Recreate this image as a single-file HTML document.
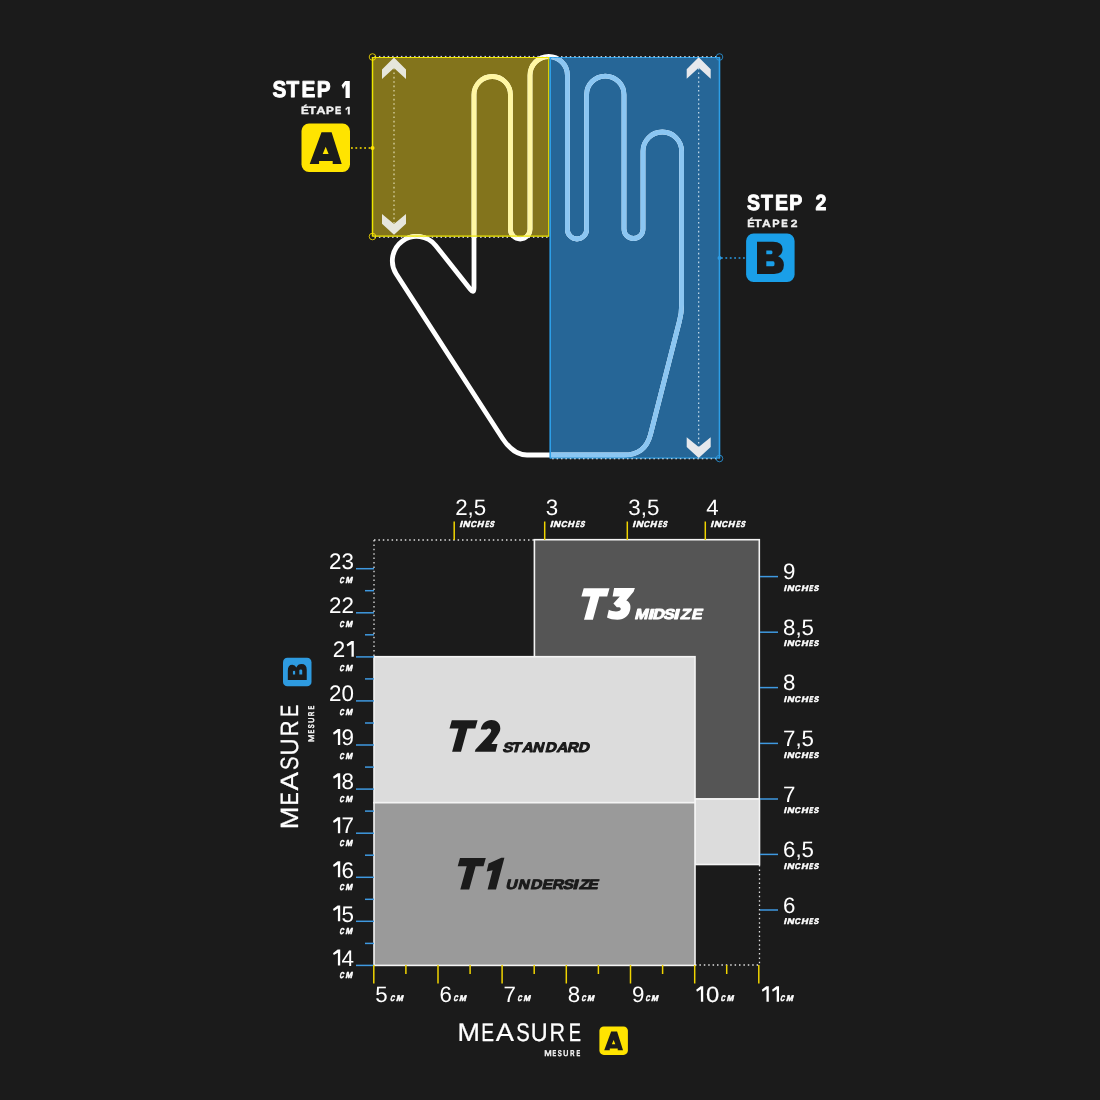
<!DOCTYPE html><html><head><meta charset="utf-8"><style>html,body{margin:0;padding:0;background:#1b1b1b;}svg{display:block;will-change:transform}text{font-family:"Liberation Sans", sans-serif;text-rendering:geometricPrecision;}</style></head><body>
<svg width="1100" height="1100" viewBox="0 0 1100 1100">
<rect x="0" y="0" width="1100" height="1100" fill="#1b1b1b"/>
<defs><clipPath id="cy"><rect x="372.5" y="57" width="176.29999999999995" height="179.5"/></clipPath><clipPath id="cb"><rect x="550.2" y="57" width="169.29999999999995" height="401.5"/></clipPath></defs>
<rect x="372.5" y="57" width="176.29999999999995" height="179.5" fill="#83741c"/>
<rect x="550.2" y="57" width="169.29999999999995" height="401.5" fill="#266697"/>
<path d="M 527 455 L 624 455 Q 645.3 455 650.5 434.5 L 679.5 320.8 Q 681.6 313 681.6 305 L 681.6 151.3 A 19.3 19.3 0 0 0 643 151.3 L 643 229 A 9.5 9.5 0 0 1 624 229 L 624 94.7 A 18.7 18.7 0 0 0 586.6 94.7 L 586.6 229.4 A 9.6 9.6 0 0 1 567.4 229.4 L 567.4 75.2 A 18.7 18.7 0 0 0 530 75.2 L 530 229.2 A 9.8 9.8 0 0 1 510.4 229.2 L 510.4 94.7 A 18.2 18.2 0 0 0 474 94.7 L 474 288 Q 474 294 470.3 289.3 L 435.6 245.4 A 24.34 24.34 0 0 0 396.1 273.7 L 502.4 438.2 Q 513.3 455 527 455 Z" fill="none" stroke="#ffffff" stroke-width="4.8" stroke-linejoin="round"/>
<path d="M 527 455 L 624 455 Q 645.3 455 650.5 434.5 L 679.5 320.8 Q 681.6 313 681.6 305 L 681.6 151.3 A 19.3 19.3 0 0 0 643 151.3 L 643 229 A 9.5 9.5 0 0 1 624 229 L 624 94.7 A 18.7 18.7 0 0 0 586.6 94.7 L 586.6 229.4 A 9.6 9.6 0 0 1 567.4 229.4 L 567.4 75.2 A 18.7 18.7 0 0 0 530 75.2 L 530 229.2 A 9.8 9.8 0 0 1 510.4 229.2 L 510.4 94.7 A 18.2 18.2 0 0 0 474 94.7 L 474 288 Q 474 294 470.3 289.3 L 435.6 245.4 A 24.34 24.34 0 0 0 396.1 273.7 L 502.4 438.2 Q 513.3 455 527 455 Z" fill="none" stroke="#fff7a2" stroke-width="4.8" stroke-linejoin="round" clip-path="url(#cy)"/>
<path d="M 527 455 L 624 455 Q 645.3 455 650.5 434.5 L 679.5 320.8 Q 681.6 313 681.6 305 L 681.6 151.3 A 19.3 19.3 0 0 0 643 151.3 L 643 229 A 9.5 9.5 0 0 1 624 229 L 624 94.7 A 18.7 18.7 0 0 0 586.6 94.7 L 586.6 229.4 A 9.6 9.6 0 0 1 567.4 229.4 L 567.4 75.2 A 18.7 18.7 0 0 0 530 75.2 L 530 229.2 A 9.8 9.8 0 0 1 510.4 229.2 L 510.4 94.7 A 18.2 18.2 0 0 0 474 94.7 L 474 288 Q 474 294 470.3 289.3 L 435.6 245.4 A 24.34 24.34 0 0 0 396.1 273.7 L 502.4 438.2 Q 513.3 455 527 455 Z" fill="none" stroke="#8bc6f2" stroke-width="4.8" stroke-linejoin="round" clip-path="url(#cb)"/>
<line x1="372.5" y1="57" x2="372.5" y2="236.5" stroke="#ece600" stroke-width="1.5"/>
<line x1="548.8" y1="57" x2="548.8" y2="236.5" stroke="#ece600" stroke-width="1.3"/>
<line x1="372.5" y1="57.5" x2="548.8" y2="57.5" stroke="#ece600" stroke-width="1.2"/>
<line x1="374.5" y1="56.4" x2="548.8" y2="56.4" stroke="#e8e0ff" stroke-width="1.0" stroke-dasharray="1.5 2.9"/>
<line x1="372.5" y1="236.2" x2="548.8" y2="236.2" stroke="#ece600" stroke-width="1.2"/>
<line x1="374.5" y1="237.3" x2="548.8" y2="237.3" stroke="#f0f0f0" stroke-width="1.0" stroke-dasharray="1.5 2.9"/>
<line x1="550.2" y1="57" x2="550.2" y2="458.5" stroke="#2d9fe8" stroke-width="1.6"/>
<line x1="719.5" y1="57" x2="719.5" y2="458.5" stroke="#2d9fe8" stroke-width="1.6"/>
<line x1="550.2" y1="57.5" x2="719.5" y2="57.5" stroke="#2d9fe8" stroke-width="1.2"/>
<line x1="552.2" y1="56.7" x2="719.5" y2="56.7" stroke="#e6f2ff" stroke-width="1.0" stroke-dasharray="1.5 2.9"/>
<line x1="550.2" y1="458.0" x2="719.5" y2="458.0" stroke="#2d9fe8" stroke-width="1.2"/>
<line x1="552.2" y1="458.8" x2="719.5" y2="458.8" stroke="#e6f2ff" stroke-width="1.0" stroke-dasharray="1.5 2.9"/>
<circle cx="372.5" cy="57" r="3.3" fill="none" stroke="#ffe400" stroke-width="1" opacity="0.8"/>
<circle cx="372.5" cy="236.5" r="3.3" fill="none" stroke="#ffe400" stroke-width="1" opacity="0.8"/>
<circle cx="719.5" cy="57" r="3.3" fill="none" stroke="#2b9be4" stroke-width="1" opacity="0.8"/>
<circle cx="719.5" cy="458.5" r="3.3" fill="none" stroke="#2b9be4" stroke-width="1" opacity="0.8"/>
<line x1="394" y1="68" x2="394" y2="224" stroke="#e8e4c0" stroke-width="1.1" stroke-dasharray="1.6 2.8"/>
<polygon points="394,57.5 406,69.5 406,79.0 394,67.9 382,79.0 382,69.5" fill="#e6e6dc"/>
<polygon points="394,234.7 406,223.7 406,214.0 394,223.89999999999998 382,214.0 382,223.7" fill="#e6e6dc"/>
<line x1="698.7" y1="68" x2="698.7" y2="447" stroke="#d8e8f4" stroke-width="1.1" stroke-dasharray="1.6 2.8"/>
<polygon points="698.7,57.3 710.7,69.3 710.7,78.8 698.7,67.7 686.7,78.8 686.7,69.3" fill="#e6e8ec"/>
<polygon points="698.7,457.9 710.7,446.9 710.7,437.2 698.7,447.09999999999997 686.7,437.2 686.7,446.9" fill="#e6e8ec"/>
<line x1="351" y1="148" x2="372" y2="148" stroke="#ffe400" stroke-width="1.6" stroke-dasharray="1.8 2.6"/>
<circle cx="372.5" cy="148" r="2" fill="#ffe400"/>
<line x1="721" y1="258" x2="746" y2="258" stroke="#2b9be4" stroke-width="1.6" stroke-dasharray="1.8 2.6"/>
<circle cx="719.5" cy="258" r="2" fill="#2b9be4"/>
<g transform="translate(301.5,123.5) scale(1.0)"><rect x="0" y="0" width="48.5" height="48.5" rx="7.5" fill="#ffe400"/><path d="M 20 8.7 L 30.1 8.7 L 40.2 40.5 L 31.2 40.5 L 31.2 37.6 L 17.6 37.6 L 17.6 40.5 L 8.2 40.5 Z M 24.2 23.3 L 27.1 30.5 L 21.2 30.5 Z" fill="#1b1b1b" fill-rule="evenodd"/></g>
<g transform="translate(746.1,233.5) scale(1.0)"><rect x="0" y="0" width="48.5" height="48.5" rx="7.5" fill="#1a9fe8"/><path d="M 10.9 8.2 L 27 8.2 Q 36.5 8.2 36.5 15.8 Q 36.5 20.5 32 22.8 Q 37.8 25.2 37.8 31.5 Q 37.8 40.4 28 40.4 L 10.9 40.4 Z M 20.2 16.9 L 25.2 16.9 Q 26.4 16.9 26.4 18.8 Q 26.4 20.7 25.2 20.7 L 20.2 20.7 Z M 20.2 27.8 L 27 27.8 Q 28.5 27.8 28.5 30.2 Q 28.5 32.7 27 32.7 L 20.2 32.7 Z" fill="#1b1b1b" fill-rule="evenodd"/></g>
<text transform="translate(272.59,97.45) scale(0.052131,0.057923)" font-size="400" fill="#fff" font-weight="bold" stroke="#fff" stroke-width="16.356" stroke-linejoin="round">S</text>
<text transform="translate(286.59,97.45) scale(0.052131,0.057923)" font-size="400" fill="#fff" font-weight="bold" stroke="#fff" stroke-width="16.356" stroke-linejoin="round">T</text>
<text transform="translate(301.45,97.45) scale(0.052131,0.057923)" font-size="400" fill="#fff" font-weight="bold" stroke="#fff" stroke-width="16.356" stroke-linejoin="round">E</text>
<text transform="translate(316.75,97.45) scale(0.052131,0.057923)" font-size="400" fill="#fff" font-weight="bold" stroke="#fff" stroke-width="16.356" stroke-linejoin="round">P</text>
<path d="M 345.50 81.10 L 349.80 81.10 L 349.80 97.90 L 345.50 97.90 L 345.50 84.46 L 343.11 88.97 L 341.60 85.32 L 345.07 81.10 Z" fill="#fff"/>
<text transform="translate(747.03,210.45) scale(0.049180,0.054645)" font-size="400" fill="#fff" font-weight="bold" stroke="#fff" stroke-width="17.337" stroke-linejoin="round">S</text>
<text transform="translate(761.05,210.45) scale(0.049180,0.054645)" font-size="400" fill="#fff" font-weight="bold" stroke="#fff" stroke-width="17.337" stroke-linejoin="round">T</text>
<text transform="translate(774.91,210.45) scale(0.049180,0.054645)" font-size="400" fill="#fff" font-weight="bold" stroke="#fff" stroke-width="17.337" stroke-linejoin="round">E</text>
<text transform="translate(789.16,210.45) scale(0.049180,0.054645)" font-size="400" fill="#fff" font-weight="bold" stroke="#fff" stroke-width="17.337" stroke-linejoin="round">P</text>
<text transform="translate(815.59,210.45) scale(0.049180,0.054645)" font-size="400" fill="#fff" font-weight="bold" stroke="#fff" stroke-width="17.337" stroke-linejoin="round">2</text>
<text transform="translate(301.00,114.10) scale(0.029148,0.026594)" font-size="400" fill="#f0f0f0" font-weight="bold" stroke="#f0f0f0" stroke-width="14.352" stroke-linejoin="round">É</text>
<text transform="translate(308.56,114.10) scale(0.031489,0.026594)" font-size="400" fill="#f0f0f0" font-weight="bold" stroke="#f0f0f0" stroke-width="13.773" stroke-linejoin="round">T</text>
<text transform="translate(316.16,114.10) scale(0.032210,0.026594)" font-size="400" fill="#f0f0f0" font-weight="bold" stroke="#f0f0f0" stroke-width="13.605" stroke-linejoin="round">A</text>
<text transform="translate(325.89,114.10) scale(0.029333,0.026594)" font-size="400" fill="#f0f0f0" font-weight="bold" stroke="#f0f0f0" stroke-width="14.304" stroke-linejoin="round">P</text>
<text transform="translate(335.05,114.10) scale(0.023767,0.026594)" font-size="400" fill="#f0f0f0" font-weight="bold" stroke="#f0f0f0" stroke-width="15.885" stroke-linejoin="round">E</text>
<path d="M 347.80 106.80 L 349.80 106.80 L 349.80 114.50 L 347.80 114.50 L 347.80 108.34 L 346.00 110.44 L 345.30 108.74 L 347.60 106.80 Z" fill="#f0f0f0"/>
<text transform="translate(747.25,227.10) scale(0.027354,0.026594)" font-size="400" fill="#f0f0f0" font-weight="bold" stroke="#f0f0f0" stroke-width="14.829" stroke-linejoin="round">É</text>
<text transform="translate(754.37,227.10) scale(0.029787,0.026594)" font-size="400" fill="#f0f0f0" font-weight="bold" stroke="#f0f0f0" stroke-width="14.189" stroke-linejoin="round">T</text>
<text transform="translate(761.98,227.10) scale(0.030712,0.026594)" font-size="400" fill="#f0f0f0" font-weight="bold" stroke="#f0f0f0" stroke-width="13.960" stroke-linejoin="round">A</text>
<text transform="translate(772.14,227.10) scale(0.027556,0.026594)" font-size="400" fill="#f0f0f0" font-weight="bold" stroke="#f0f0f0" stroke-width="14.774" stroke-linejoin="round">P</text>
<text transform="translate(781.23,227.10) scale(0.024215,0.026594)" font-size="400" fill="#f0f0f0" font-weight="bold" stroke="#f0f0f0" stroke-width="15.745" stroke-linejoin="round">E</text>
<text transform="translate(790.86,227.10) scale(0.030366,0.026594)" font-size="400" fill="#f0f0f0" font-weight="bold" stroke="#f0f0f0" stroke-width="14.045" stroke-linejoin="round">2</text>
<line x1="374" y1="540" x2="534" y2="540" stroke="#e0e0e0" stroke-width="1.3" stroke-dasharray="1.5 2.9"/>
<line x1="374" y1="540" x2="374" y2="657" stroke="#e0e0e0" stroke-width="1.3" stroke-dasharray="1.5 2.9"/>
<line x1="759.5" y1="865" x2="759.5" y2="965" stroke="#e0e0e0" stroke-width="1.3" stroke-dasharray="1.5 2.9"/>
<line x1="695" y1="965" x2="759.5" y2="965" stroke="#e0e0e0" stroke-width="1.3" stroke-dasharray="1.5 2.9"/>
<rect x="534.4" y="539.7" width="224.9" height="259.3" fill="#555555" stroke="#f4f4f4" stroke-width="1.6"/>
<rect x="695" y="799" width="64.5" height="65.5" fill="#dcdcdc" stroke="#f4f4f4" stroke-width="1.6"/>
<rect x="374" y="656.7" width="321" height="146" fill="#dcdcdc" stroke="#f4f4f4" stroke-width="1.6"/>
<rect x="374" y="802.7" width="321" height="162.7" fill="#9a9a9a" stroke="#f4f4f4" stroke-width="1.6"/>
<line x1="356" y1="568.7" x2="374" y2="568.7" stroke="#3f99e0" stroke-width="1.5"/>
<line x1="365" y1="590.7" x2="374" y2="590.7" stroke="#3f99e0" stroke-width="1.5"/>
<text x="354" y="568.9" font-size="22.4" fill="#fff" text-anchor="end">23</text>
<text transform="translate(339.36,583.45) skewX(-14) scale(0.014665,0.021129)" font-size="400" fill="#fff" font-weight="bold" stroke="#fff" stroke-width="27.937" stroke-linejoin="round">C</text>
<text transform="translate(345.19,583.45) skewX(-14) scale(0.020347,0.021129)" font-size="400" fill="#fff" font-weight="bold" stroke="#fff" stroke-width="24.110" stroke-linejoin="round">M</text>
<line x1="356" y1="612.8" x2="374" y2="612.8" stroke="#3f99e0" stroke-width="1.5"/>
<line x1="365" y1="634.8" x2="374" y2="634.8" stroke="#3f99e0" stroke-width="1.5"/>
<text x="354" y="613.0" font-size="22.4" fill="#fff" text-anchor="end">22</text>
<text transform="translate(339.36,627.25) skewX(-14) scale(0.014665,0.021129)" font-size="400" fill="#fff" font-weight="bold" stroke="#fff" stroke-width="27.937" stroke-linejoin="round">C</text>
<text transform="translate(345.19,627.25) skewX(-14) scale(0.020347,0.021129)" font-size="400" fill="#fff" font-weight="bold" stroke="#fff" stroke-width="24.110" stroke-linejoin="round">M</text>
<line x1="356" y1="656.9" x2="374" y2="656.9" stroke="#3f99e0" stroke-width="1.5"/>
<line x1="365" y1="678.9" x2="374" y2="678.9" stroke="#3f99e0" stroke-width="1.5"/>
<text x="345.3" y="657.1" font-size="22.4" fill="#fff" text-anchor="end">2</text>
<path d="M 351.50 640.96 L 353.80 640.96 L 353.80 656.86 L 351.50 656.86 L 351.50 644.14 L 347.41 646.55 L 346.60 644.60 L 351.27 640.96 Z" fill="#fff"/>
<text transform="translate(339.36,671.05) skewX(-14) scale(0.014665,0.021129)" font-size="400" fill="#fff" font-weight="bold" stroke="#fff" stroke-width="27.937" stroke-linejoin="round">C</text>
<text transform="translate(345.19,671.05) skewX(-14) scale(0.020347,0.021129)" font-size="400" fill="#fff" font-weight="bold" stroke="#fff" stroke-width="24.110" stroke-linejoin="round">M</text>
<line x1="356" y1="700.9" x2="374" y2="700.9" stroke="#3f99e0" stroke-width="1.5"/>
<line x1="365" y1="723.0" x2="374" y2="723.0" stroke="#3f99e0" stroke-width="1.5"/>
<text x="354" y="701.1" font-size="22.4" fill="#fff" text-anchor="end">20</text>
<text transform="translate(339.36,714.85) skewX(-14) scale(0.014665,0.021129)" font-size="400" fill="#fff" font-weight="bold" stroke="#fff" stroke-width="27.937" stroke-linejoin="round">C</text>
<text transform="translate(345.19,714.85) skewX(-14) scale(0.020347,0.021129)" font-size="400" fill="#fff" font-weight="bold" stroke="#fff" stroke-width="24.110" stroke-linejoin="round">M</text>
<line x1="356" y1="745.0" x2="374" y2="745.0" stroke="#3f99e0" stroke-width="1.5"/>
<line x1="365" y1="767.1" x2="374" y2="767.1" stroke="#3f99e0" stroke-width="1.5"/>
<text x="354" y="745.2" font-size="22.4" fill="#fff" text-anchor="end">9</text>
<path d="M 337.90 729.12 L 340.20 729.12 L 340.20 745.02 L 337.90 745.02 L 337.90 732.30 L 333.81 734.71 L 333.00 732.76 L 337.67 729.12 Z" fill="#fff"/>
<text transform="translate(339.36,758.65) skewX(-14) scale(0.014665,0.021129)" font-size="400" fill="#fff" font-weight="bold" stroke="#fff" stroke-width="27.937" stroke-linejoin="round">C</text>
<text transform="translate(345.19,758.65) skewX(-14) scale(0.020347,0.021129)" font-size="400" fill="#fff" font-weight="bold" stroke="#fff" stroke-width="24.110" stroke-linejoin="round">M</text>
<line x1="356" y1="789.1" x2="374" y2="789.1" stroke="#3f99e0" stroke-width="1.5"/>
<line x1="365" y1="811.1" x2="374" y2="811.1" stroke="#3f99e0" stroke-width="1.5"/>
<text x="354" y="789.3" font-size="22.4" fill="#fff" text-anchor="end">8</text>
<path d="M 337.90 773.20 L 340.20 773.20 L 340.20 789.10 L 337.90 789.10 L 337.90 776.38 L 333.81 778.79 L 333.00 776.84 L 337.67 773.20 Z" fill="#fff"/>
<text transform="translate(339.36,802.45) skewX(-14) scale(0.014665,0.021129)" font-size="400" fill="#fff" font-weight="bold" stroke="#fff" stroke-width="27.937" stroke-linejoin="round">C</text>
<text transform="translate(345.19,802.45) skewX(-14) scale(0.020347,0.021129)" font-size="400" fill="#fff" font-weight="bold" stroke="#fff" stroke-width="24.110" stroke-linejoin="round">M</text>
<line x1="356" y1="833.2" x2="374" y2="833.2" stroke="#3f99e0" stroke-width="1.5"/>
<line x1="365" y1="855.2" x2="374" y2="855.2" stroke="#3f99e0" stroke-width="1.5"/>
<text x="354" y="833.4" font-size="22.4" fill="#fff" text-anchor="end">7</text>
<path d="M 337.90 817.28 L 340.20 817.28 L 340.20 833.18 L 337.90 833.18 L 337.90 820.46 L 333.81 822.88 L 333.00 820.92 L 337.67 817.28 Z" fill="#fff"/>
<text transform="translate(339.36,846.25) skewX(-14) scale(0.014665,0.021129)" font-size="400" fill="#fff" font-weight="bold" stroke="#fff" stroke-width="27.937" stroke-linejoin="round">C</text>
<text transform="translate(345.19,846.25) skewX(-14) scale(0.020347,0.021129)" font-size="400" fill="#fff" font-weight="bold" stroke="#fff" stroke-width="24.110" stroke-linejoin="round">M</text>
<line x1="356" y1="877.3" x2="374" y2="877.3" stroke="#3f99e0" stroke-width="1.5"/>
<line x1="365" y1="899.3" x2="374" y2="899.3" stroke="#3f99e0" stroke-width="1.5"/>
<text x="354" y="877.5" font-size="22.4" fill="#fff" text-anchor="end">6</text>
<path d="M 337.90 861.36 L 340.20 861.36 L 340.20 877.26 L 337.90 877.26 L 337.90 864.54 L 333.81 866.95 L 333.00 865.00 L 337.67 861.36 Z" fill="#fff"/>
<text transform="translate(339.36,890.05) skewX(-14) scale(0.014665,0.021129)" font-size="400" fill="#fff" font-weight="bold" stroke="#fff" stroke-width="27.937" stroke-linejoin="round">C</text>
<text transform="translate(345.19,890.05) skewX(-14) scale(0.020347,0.021129)" font-size="400" fill="#fff" font-weight="bold" stroke="#fff" stroke-width="24.110" stroke-linejoin="round">M</text>
<line x1="356" y1="921.3" x2="374" y2="921.3" stroke="#3f99e0" stroke-width="1.5"/>
<line x1="365" y1="943.4" x2="374" y2="943.4" stroke="#3f99e0" stroke-width="1.5"/>
<text x="354" y="921.5" font-size="22.4" fill="#fff" text-anchor="end">5</text>
<path d="M 337.90 905.44 L 340.20 905.44 L 340.20 921.34 L 337.90 921.34 L 337.90 908.62 L 333.81 911.03 L 333.00 909.08 L 337.67 905.44 Z" fill="#fff"/>
<text transform="translate(339.36,933.85) skewX(-14) scale(0.014665,0.021129)" font-size="400" fill="#fff" font-weight="bold" stroke="#fff" stroke-width="27.937" stroke-linejoin="round">C</text>
<text transform="translate(345.19,933.85) skewX(-14) scale(0.020347,0.021129)" font-size="400" fill="#fff" font-weight="bold" stroke="#fff" stroke-width="24.110" stroke-linejoin="round">M</text>
<line x1="356" y1="965.4" x2="374" y2="965.4" stroke="#3f99e0" stroke-width="1.5"/>
<text x="354" y="965.6" font-size="22.4" fill="#fff" text-anchor="end">4</text>
<path d="M 337.90 949.52 L 340.20 949.52 L 340.20 965.42 L 337.90 965.42 L 337.90 952.70 L 333.81 955.12 L 333.00 953.16 L 337.67 949.52 Z" fill="#fff"/>
<text transform="translate(339.36,977.65) skewX(-14) scale(0.014665,0.021129)" font-size="400" fill="#fff" font-weight="bold" stroke="#fff" stroke-width="27.937" stroke-linejoin="round">C</text>
<text transform="translate(345.19,977.65) skewX(-14) scale(0.020347,0.021129)" font-size="400" fill="#fff" font-weight="bold" stroke="#fff" stroke-width="24.110" stroke-linejoin="round">M</text>
<line x1="373.8" y1="965" x2="373.8" y2="983.5" stroke="#f0d400" stroke-width="1.5"/>
<line x1="405.9" y1="965" x2="405.9" y2="974" stroke="#f0d400" stroke-width="1.5"/>
<text x="375.3" y="1001.8" font-size="22.3" fill="#fff">5</text>
<text transform="translate(390.06,1001.35) skewX(-14) scale(0.014716,0.020765)" font-size="400" fill="#fff" font-weight="bold" stroke="#fff" stroke-width="28.184" stroke-linejoin="round">C</text>
<text transform="translate(395.89,1001.35) skewX(-14) scale(0.020437,0.020765)" font-size="400" fill="#fff" font-weight="bold" stroke="#fff" stroke-width="24.271" stroke-linejoin="round">M</text>
<line x1="438.0" y1="965" x2="438.0" y2="983.5" stroke="#f0d400" stroke-width="1.5"/>
<line x1="470.1" y1="965" x2="470.1" y2="974" stroke="#f0d400" stroke-width="1.5"/>
<text x="439.5" y="1001.8" font-size="22.3" fill="#fff">6</text>
<text transform="translate(453.23,1001.35) skewX(-14) scale(0.014716,0.020765)" font-size="400" fill="#fff" font-weight="bold" stroke="#fff" stroke-width="28.184" stroke-linejoin="round">C</text>
<text transform="translate(459.06,1001.35) skewX(-14) scale(0.020437,0.020765)" font-size="400" fill="#fff" font-weight="bold" stroke="#fff" stroke-width="24.271" stroke-linejoin="round">M</text>
<line x1="502.1" y1="965" x2="502.1" y2="983.5" stroke="#f0d400" stroke-width="1.5"/>
<line x1="534.2" y1="965" x2="534.2" y2="974" stroke="#f0d400" stroke-width="1.5"/>
<text x="503.6" y="1001.8" font-size="22.3" fill="#fff">7</text>
<text transform="translate(517.30,1001.35) skewX(-14) scale(0.014716,0.020765)" font-size="400" fill="#fff" font-weight="bold" stroke="#fff" stroke-width="28.184" stroke-linejoin="round">C</text>
<text transform="translate(523.13,1001.35) skewX(-14) scale(0.020437,0.020765)" font-size="400" fill="#fff" font-weight="bold" stroke="#fff" stroke-width="24.271" stroke-linejoin="round">M</text>
<line x1="566.3" y1="965" x2="566.3" y2="983.5" stroke="#f0d400" stroke-width="1.5"/>
<line x1="598.4" y1="965" x2="598.4" y2="974" stroke="#f0d400" stroke-width="1.5"/>
<text x="567.8" y="1001.8" font-size="22.3" fill="#fff">8</text>
<text transform="translate(581.27,1001.35) skewX(-14) scale(0.014716,0.020765)" font-size="400" fill="#fff" font-weight="bold" stroke="#fff" stroke-width="28.184" stroke-linejoin="round">C</text>
<text transform="translate(587.10,1001.35) skewX(-14) scale(0.020437,0.020765)" font-size="400" fill="#fff" font-weight="bold" stroke="#fff" stroke-width="24.271" stroke-linejoin="round">M</text>
<line x1="630.5" y1="965" x2="630.5" y2="983.5" stroke="#f0d400" stroke-width="1.5"/>
<line x1="662.6" y1="965" x2="662.6" y2="974" stroke="#f0d400" stroke-width="1.5"/>
<text x="632.0" y="1001.8" font-size="22.3" fill="#fff">9</text>
<text transform="translate(645.24,1001.35) skewX(-14) scale(0.014716,0.020765)" font-size="400" fill="#fff" font-weight="bold" stroke="#fff" stroke-width="28.184" stroke-linejoin="round">C</text>
<text transform="translate(651.07,1001.35) skewX(-14) scale(0.020437,0.020765)" font-size="400" fill="#fff" font-weight="bold" stroke="#fff" stroke-width="24.271" stroke-linejoin="round">M</text>
<line x1="694.7" y1="965" x2="694.7" y2="983.5" stroke="#f0d400" stroke-width="1.5"/>
<line x1="726.7" y1="965" x2="726.7" y2="974" stroke="#f0d400" stroke-width="1.5"/>
<path d="M 700.90 986.20 L 703.20 986.20 L 703.20 1001.70 L 700.90 1001.70 L 700.90 989.30 L 697.00 991.72 L 696.20 989.76 L 700.67 986.20 Z" fill="#fff"/>
<text transform="translate(706.03,1001.60) scale(0.059410,0.055009)" font-size="400" fill="#fff" stroke="#fff" stroke-width="3.496" stroke-linejoin="round">0</text>
<text transform="translate(720.61,1001.35) skewX(-14) scale(0.014716,0.020765)" font-size="400" fill="#fff" font-weight="bold" stroke="#fff" stroke-width="28.184" stroke-linejoin="round">C</text>
<text transform="translate(726.44,1001.35) skewX(-14) scale(0.020437,0.020765)" font-size="400" fill="#fff" font-weight="bold" stroke="#fff" stroke-width="24.271" stroke-linejoin="round">M</text>
<line x1="758.8" y1="965" x2="758.8" y2="983.5" stroke="#f0d400" stroke-width="1.5"/>
<path d="M 766.50 986.20 L 768.80 986.20 L 768.80 1001.70 L 766.50 1001.70 L 766.50 989.30 L 762.60 991.72 L 761.80 989.76 L 766.27 986.20 Z" fill="#fff"/>
<path d="M 776.70 986.20 L 779.00 986.20 L 779.00 1001.70 L 776.70 1001.70 L 776.70 989.30 L 772.80 991.72 L 772.00 989.76 L 776.47 986.20 Z" fill="#fff"/>
<text transform="translate(780.08,1001.35) skewX(-14) scale(0.014716,0.020765)" font-size="400" fill="#fff" font-weight="bold" stroke="#fff" stroke-width="28.184" stroke-linejoin="round">C</text>
<text transform="translate(785.91,1001.35) skewX(-14) scale(0.020437,0.020765)" font-size="400" fill="#fff" font-weight="bold" stroke="#fff" stroke-width="24.271" stroke-linejoin="round">M</text>
<line x1="454.2" y1="521.5" x2="454.2" y2="540" stroke="#f0d400" stroke-width="1.5"/>
<text x="455.2" y="515.3" font-size="22.3" fill="#fff">2,5</text>
<text transform="translate(459.22,527.15) skewX(-14) scale(0.024044,0.021858)" font-size="400" fill="#fff" font-weight="bold" stroke="#fff" stroke-width="21.786" stroke-linejoin="round">I</text>
<text transform="translate(462.59,527.15) skewX(-14) scale(0.023960,0.021858)" font-size="400" fill="#fff" font-weight="bold" stroke="#fff" stroke-width="21.825" stroke-linejoin="round">N</text>
<text transform="translate(470.13,527.15) skewX(-14) scale(0.019394,0.021858)" font-size="400" fill="#fff" font-weight="bold" stroke="#fff" stroke-width="24.241" stroke-linejoin="round">C</text>
<text transform="translate(476.72,527.15) skewX(-14) scale(0.022678,0.021858)" font-size="400" fill="#fff" font-weight="bold" stroke="#fff" stroke-width="22.454" stroke-linejoin="round">H</text>
<text transform="translate(484.68,527.15) skewX(-14) scale(0.013520,0.021858)" font-size="400" fill="#fff" font-weight="bold" stroke="#fff" stroke-width="28.266" stroke-linejoin="round">E</text>
<text transform="translate(489.17,527.15) skewX(-14) scale(0.016909,0.021858)" font-size="400" fill="#fff" font-weight="bold" stroke="#fff" stroke-width="25.795" stroke-linejoin="round">S</text>
<line x1="544.7" y1="521.5" x2="544.7" y2="540" stroke="#f0d400" stroke-width="1.5"/>
<text x="545.7" y="515.3" font-size="22.3" fill="#fff">3</text>
<text transform="translate(549.72,527.15) skewX(-14) scale(0.024044,0.021858)" font-size="400" fill="#fff" font-weight="bold" stroke="#fff" stroke-width="21.786" stroke-linejoin="round">I</text>
<text transform="translate(553.09,527.15) skewX(-14) scale(0.023960,0.021858)" font-size="400" fill="#fff" font-weight="bold" stroke="#fff" stroke-width="21.825" stroke-linejoin="round">N</text>
<text transform="translate(560.63,527.15) skewX(-14) scale(0.019394,0.021858)" font-size="400" fill="#fff" font-weight="bold" stroke="#fff" stroke-width="24.241" stroke-linejoin="round">C</text>
<text transform="translate(567.22,527.15) skewX(-14) scale(0.022678,0.021858)" font-size="400" fill="#fff" font-weight="bold" stroke="#fff" stroke-width="22.454" stroke-linejoin="round">H</text>
<text transform="translate(575.18,527.15) skewX(-14) scale(0.013520,0.021858)" font-size="400" fill="#fff" font-weight="bold" stroke="#fff" stroke-width="28.266" stroke-linejoin="round">E</text>
<text transform="translate(579.67,527.15) skewX(-14) scale(0.016909,0.021858)" font-size="400" fill="#fff" font-weight="bold" stroke="#fff" stroke-width="25.795" stroke-linejoin="round">S</text>
<line x1="627.3" y1="521.5" x2="627.3" y2="540" stroke="#f0d400" stroke-width="1.5"/>
<text x="628.3" y="515.3" font-size="22.3" fill="#fff">3,5</text>
<text transform="translate(632.32,527.15) skewX(-14) scale(0.024044,0.021858)" font-size="400" fill="#fff" font-weight="bold" stroke="#fff" stroke-width="21.786" stroke-linejoin="round">I</text>
<text transform="translate(635.69,527.15) skewX(-14) scale(0.023960,0.021858)" font-size="400" fill="#fff" font-weight="bold" stroke="#fff" stroke-width="21.825" stroke-linejoin="round">N</text>
<text transform="translate(643.23,527.15) skewX(-14) scale(0.019394,0.021858)" font-size="400" fill="#fff" font-weight="bold" stroke="#fff" stroke-width="24.241" stroke-linejoin="round">C</text>
<text transform="translate(649.82,527.15) skewX(-14) scale(0.022678,0.021858)" font-size="400" fill="#fff" font-weight="bold" stroke="#fff" stroke-width="22.454" stroke-linejoin="round">H</text>
<text transform="translate(657.78,527.15) skewX(-14) scale(0.013520,0.021858)" font-size="400" fill="#fff" font-weight="bold" stroke="#fff" stroke-width="28.266" stroke-linejoin="round">E</text>
<text transform="translate(662.27,527.15) skewX(-14) scale(0.016909,0.021858)" font-size="400" fill="#fff" font-weight="bold" stroke="#fff" stroke-width="25.795" stroke-linejoin="round">S</text>
<line x1="705.3" y1="521.5" x2="705.3" y2="540" stroke="#f0d400" stroke-width="1.5"/>
<text x="706.3" y="515.3" font-size="22.3" fill="#fff">4</text>
<text transform="translate(710.32,527.15) skewX(-14) scale(0.024044,0.021858)" font-size="400" fill="#fff" font-weight="bold" stroke="#fff" stroke-width="21.786" stroke-linejoin="round">I</text>
<text transform="translate(713.69,527.15) skewX(-14) scale(0.023960,0.021858)" font-size="400" fill="#fff" font-weight="bold" stroke="#fff" stroke-width="21.825" stroke-linejoin="round">N</text>
<text transform="translate(721.23,527.15) skewX(-14) scale(0.019394,0.021858)" font-size="400" fill="#fff" font-weight="bold" stroke="#fff" stroke-width="24.241" stroke-linejoin="round">C</text>
<text transform="translate(727.82,527.15) skewX(-14) scale(0.022678,0.021858)" font-size="400" fill="#fff" font-weight="bold" stroke="#fff" stroke-width="22.454" stroke-linejoin="round">H</text>
<text transform="translate(735.78,527.15) skewX(-14) scale(0.013520,0.021858)" font-size="400" fill="#fff" font-weight="bold" stroke="#fff" stroke-width="28.266" stroke-linejoin="round">E</text>
<text transform="translate(740.27,527.15) skewX(-14) scale(0.016909,0.021858)" font-size="400" fill="#fff" font-weight="bold" stroke="#fff" stroke-width="25.795" stroke-linejoin="round">S</text>
<line x1="760" y1="576.6" x2="778" y2="576.6" stroke="#3f99e0" stroke-width="1.5"/>
<text x="783" y="579.2" font-size="22.3" fill="#fff">9</text>
<text transform="translate(783.52,590.75) skewX(-14) scale(0.022842,0.020765)" font-size="400" fill="#fff" font-weight="bold" stroke="#fff" stroke-width="22.932" stroke-linejoin="round">I</text>
<text transform="translate(786.78,590.75) skewX(-14) scale(0.024280,0.020765)" font-size="400" fill="#fff" font-weight="bold" stroke="#fff" stroke-width="22.200" stroke-linejoin="round">N</text>
<text transform="translate(794.35,590.75) skewX(-14) scale(0.019520,0.020765)" font-size="400" fill="#fff" font-weight="bold" stroke="#fff" stroke-width="24.823" stroke-linejoin="round">C</text>
<text transform="translate(800.91,590.75) skewX(-14) scale(0.022998,0.020765)" font-size="400" fill="#fff" font-weight="bold" stroke="#fff" stroke-width="22.851" stroke-linejoin="round">H</text>
<text transform="translate(808.87,590.75) skewX(-14) scale(0.013867,0.020765)" font-size="400" fill="#fff" font-weight="bold" stroke="#fff" stroke-width="28.875" stroke-linejoin="round">E</text>
<text transform="translate(813.39,590.75) skewX(-14) scale(0.017094,0.020765)" font-size="400" fill="#fff" font-weight="bold" stroke="#fff" stroke-width="26.414" stroke-linejoin="round">S</text>
<line x1="760" y1="632.2" x2="778" y2="632.2" stroke="#3f99e0" stroke-width="1.5"/>
<text x="783" y="634.8" font-size="22.3" fill="#fff">8,5</text>
<text transform="translate(783.52,646.35) skewX(-14) scale(0.022842,0.020765)" font-size="400" fill="#fff" font-weight="bold" stroke="#fff" stroke-width="22.932" stroke-linejoin="round">I</text>
<text transform="translate(786.78,646.35) skewX(-14) scale(0.024280,0.020765)" font-size="400" fill="#fff" font-weight="bold" stroke="#fff" stroke-width="22.200" stroke-linejoin="round">N</text>
<text transform="translate(794.35,646.35) skewX(-14) scale(0.019520,0.020765)" font-size="400" fill="#fff" font-weight="bold" stroke="#fff" stroke-width="24.823" stroke-linejoin="round">C</text>
<text transform="translate(800.91,646.35) skewX(-14) scale(0.022998,0.020765)" font-size="400" fill="#fff" font-weight="bold" stroke="#fff" stroke-width="22.851" stroke-linejoin="round">H</text>
<text transform="translate(808.87,646.35) skewX(-14) scale(0.013867,0.020765)" font-size="400" fill="#fff" font-weight="bold" stroke="#fff" stroke-width="28.875" stroke-linejoin="round">E</text>
<text transform="translate(813.39,646.35) skewX(-14) scale(0.017094,0.020765)" font-size="400" fill="#fff" font-weight="bold" stroke="#fff" stroke-width="26.414" stroke-linejoin="round">S</text>
<line x1="760" y1="687.6" x2="778" y2="687.6" stroke="#3f99e0" stroke-width="1.5"/>
<text x="783" y="690.2" font-size="22.3" fill="#fff">8</text>
<text transform="translate(783.52,701.75) skewX(-14) scale(0.022842,0.020765)" font-size="400" fill="#fff" font-weight="bold" stroke="#fff" stroke-width="22.932" stroke-linejoin="round">I</text>
<text transform="translate(786.78,701.75) skewX(-14) scale(0.024280,0.020765)" font-size="400" fill="#fff" font-weight="bold" stroke="#fff" stroke-width="22.200" stroke-linejoin="round">N</text>
<text transform="translate(794.35,701.75) skewX(-14) scale(0.019520,0.020765)" font-size="400" fill="#fff" font-weight="bold" stroke="#fff" stroke-width="24.823" stroke-linejoin="round">C</text>
<text transform="translate(800.91,701.75) skewX(-14) scale(0.022998,0.020765)" font-size="400" fill="#fff" font-weight="bold" stroke="#fff" stroke-width="22.851" stroke-linejoin="round">H</text>
<text transform="translate(808.87,701.75) skewX(-14) scale(0.013867,0.020765)" font-size="400" fill="#fff" font-weight="bold" stroke="#fff" stroke-width="28.875" stroke-linejoin="round">E</text>
<text transform="translate(813.39,701.75) skewX(-14) scale(0.017094,0.020765)" font-size="400" fill="#fff" font-weight="bold" stroke="#fff" stroke-width="26.414" stroke-linejoin="round">S</text>
<line x1="760" y1="743.4" x2="778" y2="743.4" stroke="#3f99e0" stroke-width="1.5"/>
<text x="783" y="746.0" font-size="22.3" fill="#fff">7,5</text>
<text transform="translate(783.52,757.55) skewX(-14) scale(0.022842,0.020765)" font-size="400" fill="#fff" font-weight="bold" stroke="#fff" stroke-width="22.932" stroke-linejoin="round">I</text>
<text transform="translate(786.78,757.55) skewX(-14) scale(0.024280,0.020765)" font-size="400" fill="#fff" font-weight="bold" stroke="#fff" stroke-width="22.200" stroke-linejoin="round">N</text>
<text transform="translate(794.35,757.55) skewX(-14) scale(0.019520,0.020765)" font-size="400" fill="#fff" font-weight="bold" stroke="#fff" stroke-width="24.823" stroke-linejoin="round">C</text>
<text transform="translate(800.91,757.55) skewX(-14) scale(0.022998,0.020765)" font-size="400" fill="#fff" font-weight="bold" stroke="#fff" stroke-width="22.851" stroke-linejoin="round">H</text>
<text transform="translate(808.87,757.55) skewX(-14) scale(0.013867,0.020765)" font-size="400" fill="#fff" font-weight="bold" stroke="#fff" stroke-width="28.875" stroke-linejoin="round">E</text>
<text transform="translate(813.39,757.55) skewX(-14) scale(0.017094,0.020765)" font-size="400" fill="#fff" font-weight="bold" stroke="#fff" stroke-width="26.414" stroke-linejoin="round">S</text>
<line x1="760" y1="799" x2="778" y2="799" stroke="#3f99e0" stroke-width="1.5"/>
<text x="783" y="801.6" font-size="22.3" fill="#fff">7</text>
<text transform="translate(783.52,813.15) skewX(-14) scale(0.022842,0.020765)" font-size="400" fill="#fff" font-weight="bold" stroke="#fff" stroke-width="22.932" stroke-linejoin="round">I</text>
<text transform="translate(786.78,813.15) skewX(-14) scale(0.024280,0.020765)" font-size="400" fill="#fff" font-weight="bold" stroke="#fff" stroke-width="22.200" stroke-linejoin="round">N</text>
<text transform="translate(794.35,813.15) skewX(-14) scale(0.019520,0.020765)" font-size="400" fill="#fff" font-weight="bold" stroke="#fff" stroke-width="24.823" stroke-linejoin="round">C</text>
<text transform="translate(800.91,813.15) skewX(-14) scale(0.022998,0.020765)" font-size="400" fill="#fff" font-weight="bold" stroke="#fff" stroke-width="22.851" stroke-linejoin="round">H</text>
<text transform="translate(808.87,813.15) skewX(-14) scale(0.013867,0.020765)" font-size="400" fill="#fff" font-weight="bold" stroke="#fff" stroke-width="28.875" stroke-linejoin="round">E</text>
<text transform="translate(813.39,813.15) skewX(-14) scale(0.017094,0.020765)" font-size="400" fill="#fff" font-weight="bold" stroke="#fff" stroke-width="26.414" stroke-linejoin="round">S</text>
<line x1="760" y1="854.4" x2="778" y2="854.4" stroke="#3f99e0" stroke-width="1.5"/>
<text x="783" y="857.0" font-size="22.3" fill="#fff">6,5</text>
<text transform="translate(783.52,868.55) skewX(-14) scale(0.022842,0.020765)" font-size="400" fill="#fff" font-weight="bold" stroke="#fff" stroke-width="22.932" stroke-linejoin="round">I</text>
<text transform="translate(786.78,868.55) skewX(-14) scale(0.024280,0.020765)" font-size="400" fill="#fff" font-weight="bold" stroke="#fff" stroke-width="22.200" stroke-linejoin="round">N</text>
<text transform="translate(794.35,868.55) skewX(-14) scale(0.019520,0.020765)" font-size="400" fill="#fff" font-weight="bold" stroke="#fff" stroke-width="24.823" stroke-linejoin="round">C</text>
<text transform="translate(800.91,868.55) skewX(-14) scale(0.022998,0.020765)" font-size="400" fill="#fff" font-weight="bold" stroke="#fff" stroke-width="22.851" stroke-linejoin="round">H</text>
<text transform="translate(808.87,868.55) skewX(-14) scale(0.013867,0.020765)" font-size="400" fill="#fff" font-weight="bold" stroke="#fff" stroke-width="28.875" stroke-linejoin="round">E</text>
<text transform="translate(813.39,868.55) skewX(-14) scale(0.017094,0.020765)" font-size="400" fill="#fff" font-weight="bold" stroke="#fff" stroke-width="26.414" stroke-linejoin="round">S</text>
<line x1="760" y1="910" x2="778" y2="910" stroke="#3f99e0" stroke-width="1.5"/>
<text x="783" y="912.6" font-size="22.3" fill="#fff">6</text>
<text transform="translate(783.52,924.15) skewX(-14) scale(0.022842,0.020765)" font-size="400" fill="#fff" font-weight="bold" stroke="#fff" stroke-width="22.932" stroke-linejoin="round">I</text>
<text transform="translate(786.78,924.15) skewX(-14) scale(0.024280,0.020765)" font-size="400" fill="#fff" font-weight="bold" stroke="#fff" stroke-width="22.200" stroke-linejoin="round">N</text>
<text transform="translate(794.35,924.15) skewX(-14) scale(0.019520,0.020765)" font-size="400" fill="#fff" font-weight="bold" stroke="#fff" stroke-width="24.823" stroke-linejoin="round">C</text>
<text transform="translate(800.91,924.15) skewX(-14) scale(0.022998,0.020765)" font-size="400" fill="#fff" font-weight="bold" stroke="#fff" stroke-width="22.851" stroke-linejoin="round">H</text>
<text transform="translate(808.87,924.15) skewX(-14) scale(0.013867,0.020765)" font-size="400" fill="#fff" font-weight="bold" stroke="#fff" stroke-width="28.875" stroke-linejoin="round">E</text>
<text transform="translate(813.39,924.15) skewX(-14) scale(0.017094,0.020765)" font-size="400" fill="#fff" font-weight="bold" stroke="#fff" stroke-width="26.414" stroke-linejoin="round">S</text>
<path d="M 451.8 720.3 L 477.6 720.3 L 475.3 728.6 L 467.4 728.6 L 461 751.8 L 452.1 751.8 L 458.5 728.6 L 449.5 728.6 Z" transform="translate(131.9,-132.1)" fill="#fff"/>
<path d="M 614.1 588 L 634.9 588 L 633.6 591.8 L 626.3 600.6 C 629.5 602 631 605 630.3 609 C 629.3 615.5 624.5 619.8 617.5 619.8 C 613.5 619.8 609.8 619 607.0 617.6 L 608.8 609.7 C 611 610.8 613.5 611.4 616 611.4 C 618.8 611.4 620.8 610.5 620.8 608.9 C 620.8 607.6 619.6 607.2 618 607.2 L 616.8 607.2 L 613.4 603.6 L 619.8 596.4 L 612.6 596.4 Z" fill="#fff"/>
<path d="M 451.8 720.3 L 477.6 720.3 L 475.3 728.6 L 467.4 728.6 L 461 751.8 L 452.1 751.8 L 458.5 728.6 L 449.5 728.6 Z" fill="#1b1b1b"/>
<path d="M 474.8 751.8 L 495.6 751.8 L 497.5 744 L 491.4 744 L 496.7 736.4 C 499 733.5 500.3 731 500.3 728.5 C 500.3 723 496.5 720 491.4 720 C 486 720 482 723.5 480.7 729.5 L 486.8 729.5 C 487.3 728.8 488.3 728.5 489.2 728.5 C 490.5 728.5 491.2 729.5 491.2 730.6 C 491.2 732 490.2 733.5 488 736 L 475.5 749.5 Z" fill="#1b1b1b"/>
<path d="M 451.8 720.3 L 477.6 720.3 L 475.3 728.6 L 467.4 728.6 L 461 751.8 L 452.1 751.8 L 458.5 728.6 L 449.5 728.6 Z" transform="translate(8.2,137.6)" fill="#1b1b1b"/>
<path d="M 488.6 863.5 L 501.4 857.8 L 504.4 857.8 L 496 889.4 L 487.6 889.4 L 492.6 870.3 L 486.7 871.5 Z" fill="#1b1b1b"/>
<text transform="translate(634.24,619.30) skewX(-14) scale(0.040393,0.036066)" font-size="400" fill="#fff" font-weight="bold" stroke="#fff" stroke-width="26.158" stroke-linejoin="round">M</text>
<text transform="translate(647.41,619.30) skewX(-14) scale(0.050492,0.036066)" font-size="400" fill="#fff" font-weight="bold" stroke="#fff" stroke-width="23.106" stroke-linejoin="round">I</text>
<text transform="translate(652.33,619.30) skewX(-14) scale(0.040393,0.036066)" font-size="400" fill="#fff" font-weight="bold" stroke="#fff" stroke-width="26.158" stroke-linejoin="round">D</text>
<text transform="translate(663.02,619.30) skewX(-14) scale(0.040393,0.036066)" font-size="400" fill="#fff" font-weight="bold" stroke="#fff" stroke-width="26.158" stroke-linejoin="round">S</text>
<text transform="translate(672.91,619.30) skewX(-14) scale(0.050492,0.036066)" font-size="400" fill="#fff" font-weight="bold" stroke="#fff" stroke-width="23.106" stroke-linejoin="round">I</text>
<text transform="translate(679.98,619.30) skewX(-14) scale(0.040393,0.036066)" font-size="400" fill="#fff" font-weight="bold" stroke="#fff" stroke-width="26.158" stroke-linejoin="round">Z</text>
<text transform="translate(690.91,619.30) skewX(-14) scale(0.040393,0.036066)" font-size="400" fill="#fff" font-weight="bold" stroke="#fff" stroke-width="26.158" stroke-linejoin="round">E</text>
<text transform="translate(502.15,751.50) skewX(-14) scale(0.038353,0.034244)" font-size="400" fill="#1b1b1b" font-weight="bold" stroke="#1b1b1b" stroke-width="27.549" stroke-linejoin="round">S</text>
<text transform="translate(511.11,751.50) skewX(-14) scale(0.038353,0.034244)" font-size="400" fill="#1b1b1b" font-weight="bold" stroke="#1b1b1b" stroke-width="27.549" stroke-linejoin="round">T</text>
<text transform="translate(521.87,751.50) skewX(-14) scale(0.038353,0.034244)" font-size="400" fill="#1b1b1b" font-weight="bold" stroke="#1b1b1b" stroke-width="27.549" stroke-linejoin="round">A</text>
<text transform="translate(532.33,751.50) skewX(-14) scale(0.038353,0.034244)" font-size="400" fill="#1b1b1b" font-weight="bold" stroke="#1b1b1b" stroke-width="27.549" stroke-linejoin="round">N</text>
<text transform="translate(544.77,751.50) skewX(-14) scale(0.038353,0.034244)" font-size="400" fill="#1b1b1b" font-weight="bold" stroke="#1b1b1b" stroke-width="27.549" stroke-linejoin="round">D</text>
<text transform="translate(556.22,751.50) skewX(-14) scale(0.038353,0.034244)" font-size="400" fill="#1b1b1b" font-weight="bold" stroke="#1b1b1b" stroke-width="27.549" stroke-linejoin="round">A</text>
<text transform="translate(566.68,751.50) skewX(-14) scale(0.038353,0.034244)" font-size="400" fill="#1b1b1b" font-weight="bold" stroke="#1b1b1b" stroke-width="27.549" stroke-linejoin="round">R</text>
<text transform="translate(577.77,751.50) skewX(-14) scale(0.038353,0.034244)" font-size="400" fill="#1b1b1b" font-weight="bold" stroke="#1b1b1b" stroke-width="27.549" stroke-linejoin="round">D</text>
<text transform="translate(505.27,889.00) skewX(-14) scale(0.038761,0.034608)" font-size="400" fill="#1b1b1b" font-weight="bold" stroke="#1b1b1b" stroke-width="27.259" stroke-linejoin="round">U</text>
<text transform="translate(517.46,889.00) skewX(-14) scale(0.038761,0.034608)" font-size="400" fill="#1b1b1b" font-weight="bold" stroke="#1b1b1b" stroke-width="27.259" stroke-linejoin="round">N</text>
<text transform="translate(530.00,889.00) skewX(-14) scale(0.038761,0.034608)" font-size="400" fill="#1b1b1b" font-weight="bold" stroke="#1b1b1b" stroke-width="27.259" stroke-linejoin="round">D</text>
<text transform="translate(541.43,889.00) skewX(-14) scale(0.038761,0.034608)" font-size="400" fill="#1b1b1b" font-weight="bold" stroke="#1b1b1b" stroke-width="27.259" stroke-linejoin="round">E</text>
<text transform="translate(551.71,889.00) skewX(-14) scale(0.038761,0.034608)" font-size="400" fill="#1b1b1b" font-weight="bold" stroke="#1b1b1b" stroke-width="27.259" stroke-linejoin="round">R</text>
<text transform="translate(562.38,889.00) skewX(-14) scale(0.038761,0.034608)" font-size="400" fill="#1b1b1b" font-weight="bold" stroke="#1b1b1b" stroke-width="27.259" stroke-linejoin="round">S</text>
<text transform="translate(572.17,889.00) skewX(-14) scale(0.048452,0.034608)" font-size="400" fill="#1b1b1b" font-weight="bold" stroke="#1b1b1b" stroke-width="24.079" stroke-linejoin="round">I</text>
<text transform="translate(578.72,889.00) skewX(-14) scale(0.038761,0.034608)" font-size="400" fill="#1b1b1b" font-weight="bold" stroke="#1b1b1b" stroke-width="27.259" stroke-linejoin="round">Z</text>
<text transform="translate(587.13,889.00) skewX(-14) scale(0.038761,0.034608)" font-size="400" fill="#1b1b1b" font-weight="bold" stroke="#1b1b1b" stroke-width="27.259" stroke-linejoin="round">E</text>
<text transform="translate(457.55,1040.88) scale(0.067857,0.063570)" font-size="400" fill="#fff" stroke="#fff" stroke-width="3.804" stroke-linejoin="round">M</text>
<text transform="translate(481.32,1040.88) scale(0.047917,0.063570)" font-size="400" fill="#fff" stroke="#fff" stroke-width="4.485" stroke-linejoin="round">E</text>
<text transform="translate(495.82,1040.88) scale(0.068371,0.063570)" font-size="400" fill="#fff" stroke="#fff" stroke-width="3.790" stroke-linejoin="round">A</text>
<text transform="translate(516.29,1040.88) scale(0.050437,0.063570)" font-size="400" fill="#fff" stroke="#fff" stroke-width="4.386" stroke-linejoin="round">S</text>
<text transform="translate(530.66,1040.88) scale(0.059071,0.063570)" font-size="400" fill="#fff" stroke="#fff" stroke-width="4.077" stroke-linejoin="round">U</text>
<text transform="translate(549.62,1040.88) scale(0.054025,0.063570)" font-size="400" fill="#fff" stroke="#fff" stroke-width="4.252" stroke-linejoin="round">R</text>
<text transform="translate(568.80,1040.88) scale(0.045602,0.063570)" font-size="400" fill="#fff" stroke="#fff" stroke-width="4.580" stroke-linejoin="round">E</text>
<text transform="translate(544.14,1055.72) scale(0.021992,0.020583)" font-size="400" fill="#eee" stroke="#eee" stroke-width="25.837" stroke-linejoin="round">M</text>
<text transform="translate(552.60,1055.72) scale(0.014120,0.020583)" font-size="400" fill="#eee" stroke="#eee" stroke-width="31.697" stroke-linejoin="round">E</text>
<text transform="translate(557.81,1055.72) scale(0.014192,0.020583)" font-size="400" fill="#eee" stroke="#eee" stroke-width="31.632" stroke-linejoin="round">S</text>
<text transform="translate(563.31,1055.72) scale(0.017920,0.020583)" font-size="400" fill="#eee" stroke="#eee" stroke-width="28.569" stroke-linejoin="round">U</text>
<text transform="translate(570.19,1055.72) scale(0.014619,0.020583)" font-size="400" fill="#eee" stroke="#eee" stroke-width="31.249" stroke-linejoin="round">R</text>
<text transform="translate(576.60,1055.72) scale(0.014120,0.020583)" font-size="400" fill="#eee" stroke="#eee" stroke-width="31.697" stroke-linejoin="round">E</text>
<g transform="translate(314,741.5) rotate(-90)">
<text transform="translate(-0.46,-0.28) scale(0.021992,0.020947)" font-size="400" fill="#eee" stroke="#eee" stroke-width="25.617" stroke-linejoin="round">M</text>
<text transform="translate(8.00,-0.28) scale(0.014120,0.020947)" font-size="400" fill="#eee" stroke="#eee" stroke-width="31.368" stroke-linejoin="round">E</text>
<text transform="translate(13.21,-0.28) scale(0.014192,0.020947)" font-size="400" fill="#eee" stroke="#eee" stroke-width="31.304" stroke-linejoin="round">S</text>
<text transform="translate(18.71,-0.28) scale(0.017920,0.020947)" font-size="400" fill="#eee" stroke="#eee" stroke-width="28.301" stroke-linejoin="round">U</text>
<text transform="translate(25.59,-0.28) scale(0.014619,0.020947)" font-size="400" fill="#eee" stroke="#eee" stroke-width="30.929" stroke-linejoin="round">R</text>
<text transform="translate(32.00,-0.28) scale(0.014120,0.020947)" font-size="400" fill="#eee" stroke="#eee" stroke-width="31.368" stroke-linejoin="round">E</text>
</g>
<g transform="translate(298.5,827.1) rotate(-90)">
<text transform="translate(-2.17,-0.12) scale(0.068542,0.062113)" font-size="400" fill="#fff" stroke="#fff" stroke-width="3.827" stroke-linejoin="round">M</text>
<text transform="translate(21.83,-0.12) scale(0.048405,0.062113)" font-size="400" fill="#fff" stroke="#fff" stroke-width="4.524" stroke-linejoin="round">E</text>
<text transform="translate(36.48,-0.12) scale(0.069061,0.062113)" font-size="400" fill="#fff" stroke="#fff" stroke-width="3.812" stroke-linejoin="round">A</text>
<text transform="translate(57.15,-0.12) scale(0.050949,0.062113)" font-size="400" fill="#fff" stroke="#fff" stroke-width="4.422" stroke-linejoin="round">S</text>
<text transform="translate(71.67,-0.12) scale(0.059670,0.062113)" font-size="400" fill="#fff" stroke="#fff" stroke-width="4.106" stroke-linejoin="round">U</text>
<text transform="translate(90.81,-0.12) scale(0.054574,0.062113)" font-size="400" fill="#fff" stroke="#fff" stroke-width="4.285" stroke-linejoin="round">R</text>
<text transform="translate(110.18,-0.12) scale(0.046067,0.062113)" font-size="400" fill="#fff" stroke="#fff" stroke-width="4.622" stroke-linejoin="round">E</text>
</g>
<g transform="translate(599.4,1026.4) scale(0.5876288659793815)"><rect x="0" y="0" width="48.5" height="48.5" rx="7.5" fill="#ffe400"/><path d="M 20 8.7 L 30.1 8.7 L 40.2 40.5 L 31.2 40.5 L 31.2 37.6 L 17.6 37.6 L 17.6 40.5 L 8.2 40.5 Z M 24.2 23.3 L 27.1 30.5 L 21.2 30.5 Z" fill="#1b1b1b" fill-rule="evenodd"/></g>
<g transform="translate(283,686.3) rotate(-90) scale(0.5876288659793815)"><rect x="0" y="0" width="48.5" height="48.5" rx="7.5" fill="#2e9be0"/><path d="M 10.9 8.2 L 27 8.2 Q 36.5 8.2 36.5 15.8 Q 36.5 20.5 32 22.8 Q 37.8 25.2 37.8 31.5 Q 37.8 40.4 28 40.4 L 10.9 40.4 Z M 20.2 16.9 L 25.2 16.9 Q 26.4 16.9 26.4 18.8 Q 26.4 20.7 25.2 20.7 L 20.2 20.7 Z M 20.2 27.8 L 27 27.8 Q 28.5 27.8 28.5 30.2 Q 28.5 32.7 27 32.7 L 20.2 32.7 Z" fill="#1b1b1b" fill-rule="evenodd"/></g>
</svg></body></html>
